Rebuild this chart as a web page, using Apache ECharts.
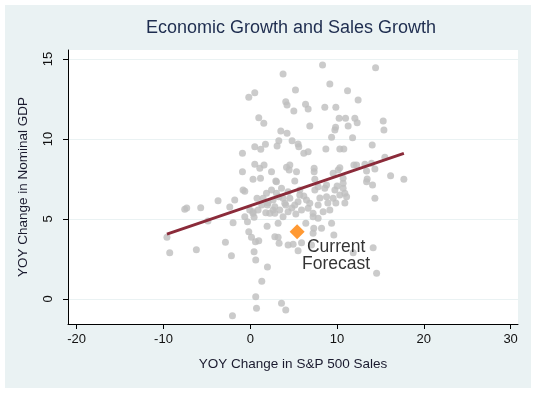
<!DOCTYPE html>
<html><head><meta charset="utf-8">
<script src="https://cdn.jsdelivr.net/npm/echarts@6/dist/echarts.min.js"></script>
<style>
html,body{margin:0;padding:0;background:#fff;}
#bg{position:absolute;left:5px;top:5px;width:526px;height:383px;background:#EAF2F3;}
#chart{position:absolute;left:0;top:0;width:537px;height:393px;}
</style></head><body>
<div id="bg"></div><div id="chart"></div>
<script>
// [YOY change in S&P 500 sales, YOY change in nominal GDP]
const points = [
[-9.60,3.86],[-9.28,2.89],[-7.55,5.61],[-7.32,5.69],[-5.71,5.71],[-6.21,3.08],[-4.87,4.88],[-3.71,6.14],[-2.36,5.75],[-2.86,3.54],
[-2.17,2.71],[-1.98,4.77],[-0.63,6.73],[-2.05,-1.04],[0.63,0.14],[0.72,-0.58],[1.33,1.11],[1.98,2.00],[0.63,2.44],[0.44,2.96],
[-0.17,4.21],[0.14,3.86],[0.60,3.58],[0.98,3.64],[1.94,4.54],[-0.32,4.83],[-0.63,5.14],[0.44,5.11],[-0.06,5.56],[0.32,5.46],
[0.78,6.29],[1.79,5.39],[1.98,5.88],[1.87,6.61],[2.63,5.56],[2.83,3.89],
[-0.17,12.61],[0.52,12.89],[3.78,14.06],[8.33,14.63],[5.21,13.06],[9.17,13.44],[11.21,13.02],[12.43,12.44],[4.09,12.33],[4.24,12.13],
[5.02,11.75],[6.37,12.17],[6.67,11.88],[8.59,11.98],[9.86,11.98],[0.98,11.33],[1.56,10.98],[6.86,10.81],[10.24,11.29],[10.98,11.29],
[12.05,11.29],[12.32,11.02],[11.28,10.81],[9.83,10.73],[9.75,10.56],[3.52,10.50],[4.24,10.36],[3.29,9.89],[3.09,9.56],[4.82,9.89],
[5.51,9.69],[5.59,9.52],[9.37,10.11],[11.79,10.08],[-0.90,9.11],[0.52,9.52],[1.21,9.36],[1.75,9.67],[6.17,9.11],[6.67,9.21],
[8.71,9.38],[10.32,9.38],[10.78,9.38],[-0.90,7.96],[0.52,8.42],[1.10,8.17],[1.59,8.38],[0.32,7.48],[1.18,7.54],[2.45,7.96],
[2.94,7.38],[4.18,8.23],[4.56,8.38],[4.48,8.06],[5.33,7.96],[5.13,7.38],[7.36,8.17],[7.36,7.96],[7.44,7.48],[10.32,8.21],
[10.13,8.06],[11.94,8.38],[12.25,8.38],[10.70,7.54],[8.79,7.13],[10.01,7.06],
[14.44,14.46],[15.32,11.13],[15.40,10.56],[14.05,9.63],[15.51,8.86],[13.21,8.42],[13.98,8.48],[14.36,8.13],[13.40,8.00],[16.17,7.71],
[17.70,7.48],[13.47,7.50],[14.09,7.13],[9.55,7.86],
[3.60,-0.27],[4.09,-0.69],[3.21,3.86],[3.32,3.48],[4.94,3.42],[5.51,3.02],[6.40,4.73],[7.32,4.42],[8.21,4.42],[7.24,4.11],
[7.82,5.04],[9.37,4.73],[9.63,4.00],[7.06,3.38],[5.91,3.52],
[2.83,5.77],[3.29,6.39],[3.98,5.98],[4.56,6.29],[4.36,5.46],[5.13,5.88],[5.71,6.50],[5.51,6.08],[5.91,5.56],[6.48,6.19],
[6.67,5.67],[7.24,5.14],[7.82,5.88],[8.40,5.46],[9.17,5.56],[8.79,6.39],[9.55,6.29],[10.32,6.50],[10.70,6.92],[9.75,6.81],
[8.59,6.92],[7.44,6.81],[14.16,3.21],[14.56,1.61],[14.36,6.29],[3.21,4.73],[4.36,3.38],[2.25,5.36],[3.02,6.61],[2.63,6.19],
[3.78,6.29],[4.09,5.88],[3.40,5.56],[2.83,5.36],[3.78,5.14],[2.05,6.02],[1.48,6.29],[0.32,5.36],[0.90,5.56],[2.45,6.81],
[3.60,6.92],[4.36,6.71],[5.71,6.81],[6.86,5.98],[7.24,5.36],[7.82,7.02],[-0.83,6.81],[-1.79,6.19],[10.70,7.23],[10.90,6.61],
[11.10,6.39],[13.40,7.33],[11.86,2.89],[3.02,7.33],
[1.33,5.88],[4.79,5.69],[6.17,6.44],[8.02,6.31],[9.86,6.00],[5.25,5.31],[8.94,6.00],[10.90,6.00]
];
const fitX = [-9.6, 17.7];
const fitY = [4.05, 9.10];
const forecast = [5.40, 4.21];
const forecastLabel = 'Current\nForecast';
const xTicks = [-20, -10, 0, 10, 20, 30];
const yTicks = [0, 5, 10, 15];
const titleText = 'Economic Growth and Sales Growth';
const xName = 'YOY Change in S&P 500 Sales';
const yName = 'YOY Change in Nominal GDP';

const FONT = '"Liberation Sans", Arial, sans-serif';
const chart = echarts.init(document.getElementById('chart'), null, {renderer:'canvas'});
const option = {
  animation: false,
  backgroundColor: 'transparent',
  title: {
    text: titleText, left: 146, top: 19, padding: 0,
    textStyle: {fontFamily: FONT, fontSize: 18, fontWeight: 'normal', color: '#1e2d4f'}
  },
  grid: {left: 68, right: 19, top: 50, bottom: 69, show: true, backgroundColor: '#ffffff', borderWidth: 0},
  xAxis: {
    type: 'value', min: -21, max: 30.85,
    name: xName, nameLocation: 'middle', nameGap: 33,
    nameTextStyle: {fontFamily: FONT, fontSize: 13.5, color: '#1a1a2e'},
    axisLine: {show: true, onZero: false, lineStyle: {color: '#000', width: 1}},
    axisTick: {show: true, length: 5, customValues: xTicks, lineStyle: {color: '#000'}},
    axisLabel: {customValues: xTicks, margin: 9, fontFamily: FONT, fontSize: 13, color: '#111'},
    splitLine: {show: false}
  },
  yAxis: {
    type: 'value', min: -1.5625, max: 15.5625,
    name: yName, nameLocation: 'middle', nameGap: 38, nameRotate: 90,
    nameTextStyle: {fontFamily: FONT, fontSize: 13.5, color: '#1a1a2e'},
    axisLine: {show: true, onZero: false, lineStyle: {color: '#000', width: 1}},
    axisTick: {show: true, length: 5, customValues: yTicks, lineStyle: {color: '#000'}},
    axisLabel: {customValues: yTicks, rotate: 90, margin: 13, fontFamily: FONT, fontSize: 13, color: '#111'},
    splitLine: {show: true, lineStyle: {color: '#EAF2F3', width: 1}}
  },
  series: [
    {type: 'scatter', data: points, symbol: 'circle', symbolSize: 7, itemStyle: {color: '#BEBEBE'}, z: 2},
    {type: 'line', data: fitX.map((x, i) => [x, fitY[i]]), symbol: 'none', lineStyle: {color: '#8B2B3A', width: 3}, z: 3},
    {type: 'scatter', data: [forecast], symbol: 'diamond', symbolSize: 15, itemStyle: {color: '#FF7F00'}, z: 4,
     label: {show: true, formatter: forecastLabel, position: 'inside', offset: [39, 24], align: 'center', verticalAlign: 'middle',
             fontFamily: FONT, fontSize: 17.5, lineHeight: 17, color: '#000'}}
  ]
};
chart.setOption(option);
</script></body></html>
